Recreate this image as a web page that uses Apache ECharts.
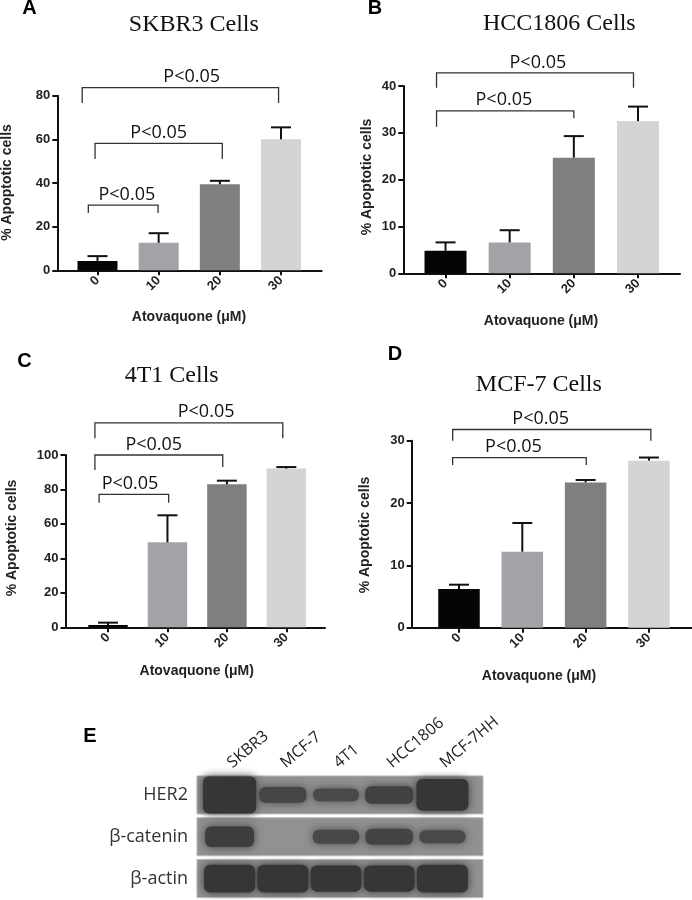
<!DOCTYPE html>
<html><head><meta charset="utf-8">
<script src="https://cdn.jsdelivr.net/npm/echarts@6/dist/echarts.min.js"></script>
<style>html,body{margin:0;padding:0;background:#fff}#c{width:692px;height:900px}</style>
</head><body><div id="c"></div>
<script>
// ---------- data ----------
const doses = ['0', '10', '20', '30'];

const skbr3Mean = [4.3, 12.6, 39.4, 60.0];
const skbr3Err  = [2.2, 4.4, 1.6, 5.5];
const skbr3YTicks = [0, 20, 40, 60, 80];

const hcc1806Mean = [4.8, 6.6, 24.7, 32.5];
const hcc1806Err  = [1.8, 2.6, 4.6, 3.1];
const hcc1806YTicks = [0, 10, 20, 30, 40];

const t41Mean = [1.3, 49.3, 83.0, 92.1];
const t41Err  = [1.4, 15.7, 2.1, 0.9];
const t41YTicks = [0, 20, 40, 60, 80, 100];

const mcf7Mean = [6.2, 12.2, 23.3, 26.8];
const mcf7Err  = [0.7, 4.6, 0.4, 0.5];
const mcf7YTicks = [0, 10, 20, 30];

// significance brackets: [fromX, toX, bracketY, leftLegEndY, rightLegEndY, labelX]
const skbr3Brackets   = [[-0.25, 2.96, 83.7, 76.7, 76.7, 1.54], [-0.04, 2.04, 58.2, 51.0, 51.0, 1.0], [-0.15, 0.99, 29.9, 26.3, 26.3, 0.48]];
const hcc1806Brackets = [[-0.14, 2.93, 42.8, 39.6, 39.6, 1.44], [-0.14, 2.0, 34.7, 31.3, 33.1, 0.91]];
const t41Brackets     = [[-0.22, 2.94, 118.7, 109.7, 109.7, 1.65], [-0.22, 1.93, 100.0, 91.3, 93.0, 0.77], [-0.15, 1.02, 77.2, 72.3, 72.3, 0.37]];
const mcf7Brackets    = [[-0.10, 3.03, 31.8, 30.0, 30.0, 1.29], [-0.10, 2.01, 27.3, 26.1, 26.1, 0.86]];
const pLabel = 'P<0.05';

// western blot
const lanes = ['SKBR3', 'MCF-7', '4T1', 'HCC1806', 'MCF-7HH'];
const proteins = ['HER2', 'β-catenin', 'β-actin'];
const her2Signal  = [1.0, 0.75, 0.70, 0.78, 0.95];
const bcatSignal  = [0.82, 0.10, 0.72, 0.76, 0.71];
const actinSignal = [0.91, 0.91, 0.89, 0.89, 0.91];

// ---------- layout / style ----------
const barColors = ['#050505', '#a2a2a7', '#7f7f7f', '#d4d4d4'];
const sansFam = '"Liberation Sans", Arial, sans-serif';
const panels = [
  { title: 'SKBR3 Cells', letter: 'A', mean: skbr3Mean, err: skbr3Err, ticks: skbr3YTicks, br: skbr3Brackets,
    grid: { left: 57.3, top: 95.7, width: 264.4, height: 174.6 }, xMin: -0.657, xMax: 3.665, barW: 40,
    titleXY: [193.8, 24.5], letterXY: [29.5, 8], xNameXY: [189, 317], yNameXY: [7, 182.5] },
  { title: 'HCC1806 Cells', letter: 'B', mean: hcc1806Mean, err: hcc1806Err, ticks: hcc1806YTicks, br: hcc1806Brackets,
    grid: { left: 403.3, top: 86, width: 276.7, height: 187.3 }, xMin: -0.658, xMax: 3.655, barW: 42,
    titleXY: [559.3, 24], letterXY: [375, 8], xNameXY: [541, 321], yNameXY: [367, 177] },
  { title: '4T1 Cells', letter: 'C', mean: t41Mean, err: t41Err, ticks: t41YTicks, br: t41Brackets,
    grid: { left: 65.5, top: 455, width: 259.5, height: 172.3 }, xMin: -0.715, xMax: 3.65, barW: 39.5,
    titleXY: [171.7, 375.5], letterXY: [24.5, 361], xNameXY: [196.7, 671.5], yNameXY: [12, 538] },
  { title: 'MCF-7 Cells', letter: 'D', mean: mcf7Mean, err: mcf7Err, ticks: mcf7YTicks, br: mcf7Brackets,
    grid: { left: 411.7, top: 440.7, width: 280.3, height: 187 }, xMin: -0.747, xMax: 3.68, barW: 41.5,
    titleXY: [538.8, 384.5], letterXY: [395, 354.5], xNameXY: [539, 676], yNameXY: [365, 535] }
];

function errRender(params, api) {
  const x = api.value(0), m = api.value(1), e = api.value(2);
  const p0 = api.coord([x, m]), p1 = api.coord([x, m + e]);
  return { type: 'group', children: [
    { type: 'line', shape: { x1: p0[0], y1: p0[1], x2: p1[0], y2: p1[1] }, style: { stroke: '#111', lineWidth: 2 } },
    { type: 'line', shape: { x1: p1[0] - 10, y1: p1[1], x2: p1[0] + 10, y2: p1[1] }, style: { stroke: '#111', lineWidth: 2 } }
  ]};
}
function brRender(params, api) {
  const x1 = api.value(0), x2 = api.value(1), y = api.value(2), l = api.value(3), r = api.value(4), lx = api.value(5);
  const a = api.coord([x1, l]), b = api.coord([x1, y]), c = api.coord([x2, y]), d = api.coord([x2, r]), t = api.coord([lx, y]);
  return { type: 'group', children: [
    { type: 'polyline', shape: { points: [a, b, c, d] }, style: { stroke: '#333', lineWidth: 1.3, fill: null } },
    { type: 'text', x: t[0], y: t[1] - 1.5, style: { text: pLabel, font: '18px "Open Sans", sans-serif', fill: '#111', align: 'center', verticalAlign: 'bottom' } }
  ]};
}

const grids = [], xAxes = [], yAxes = [], series = [], graphics = [];
panels.forEach((p, i) => {
  grids.push(Object.assign({}, p.grid));
  xAxes.push({
    type: 'value', gridIndex: i, min: p.xMin, max: p.xMax,
    axisLine: { show: true, onZero: false, lineStyle: { color: '#111', width: 2 } },
    axisTick: { show: true, customValues: [0, 1, 2, 3], length: 5, lineStyle: { color: '#111', width: 2 } },
    axisLabel: { customValues: [0, 1, 2, 3], rotate: 45, margin: 8, formatter: v => doses[Math.round(v)],
      fontFamily: sansFam, fontWeight: 'bold', fontSize: 13, color: '#222' },
    splitLine: { show: false }
  });
  yAxes.push({
    type: 'value', gridIndex: i, min: p.ticks[0], max: p.ticks[p.ticks.length - 1], interval: p.ticks[1] - p.ticks[0],
    axisLine: { show: true, onZero: false, lineStyle: { color: '#111', width: 2 } },
    axisTick: { show: true, length: 5, lineStyle: { color: '#111', width: 2 } },
    axisLabel: { margin: 7, fontFamily: sansFam, fontWeight: 'bold', fontSize: 13, color: '#222' },
    splitLine: { show: false }
  });
  series.push({
    type: 'bar', xAxisIndex: i, yAxisIndex: i, barWidth: p.barW, z: 2,
    data: p.mean.map((v, k) => ({ value: [k, v], itemStyle: { color: barColors[k] } }))
  });
  series.push({
    type: 'custom', xAxisIndex: i, yAxisIndex: i, z: 3, clip: false, renderItem: errRender,
    encode: { x: 0, y: 1 },
    data: p.mean.map((v, k) => [k, v, p.err[k]])
  });
  series.push({
    type: 'custom', xAxisIndex: i, yAxisIndex: i, z: 4, clip: false, renderItem: brRender,
    encode: { x: [0, 1], y: [2] },
    data: p.br
  });
  graphics.push({ type: 'text', x: p.titleXY[0], y: p.titleXY[1],
    style: { text: p.title, font: '24px "Liberation Serif", "Times New Roman", serif', fill: '#111', align: 'center', verticalAlign: 'middle' } });
  graphics.push({ type: 'text', x: p.letterXY[0], y: p.letterXY[1],
    style: { text: p.letter, font: 'bold 20px ' + sansFam, fill: '#000', align: 'center', verticalAlign: 'middle' } });
  graphics.push({ type: 'text', x: p.xNameXY[0], y: p.xNameXY[1],
    style: { text: 'Atovaquone (μM)', font: 'bold 14px ' + sansFam, fill: '#222', align: 'center', verticalAlign: 'middle' } });
  graphics.push({ type: 'text', x: p.yNameXY[0], y: p.yNameXY[1], rotation: Math.PI / 2,
    style: { text: '% Apoptotic cells', font: 'bold 14px ' + sansFam, fill: '#222', align: 'center', verticalAlign: 'middle' } });
});

// ---------- western blot panel ----------
const gi = 4;
grids.push({ left: 203, top: 774, width: 266, height: 125.5 });
xAxes.push({ type: 'category', gridIndex: gi, data: lanes, position: 'top',
  axisLine: { show: false }, axisTick: { show: false }, splitLine: { show: false },
  axisLabel: { rotate: -40, margin: 9, interval: 0, fontFamily: '"Open Sans", sans-serif', fontSize: 16, color: '#222' } });
yAxes.push({ type: 'category', gridIndex: gi, data: proteins, inverse: true,
  axisLine: { show: false }, axisTick: { show: false }, splitLine: { show: false },
  axisLabel: { margin: 15, fontFamily: '"Open Sans", sans-serif', fontSize: 18, color: '#333' } });

const blotBg = [145, 145, 145], blotDark = [54, 54, 54];
function mix(t) {
  t = Math.max(0, Math.min(1, t));
  const c = blotBg.map((b, k) => Math.round(b + (blotDark[k] - b) * t));
  return 'rgb(' + c.join(',') + ')';
}
series.push({
  type: 'custom', xAxisIndex: gi, yAxisIndex: gi, z: 1, clip: false,
  data: proteins.map((p, r) => [0, r]),
  renderItem: (params, api) => {
    const cs = params.coordSys;
    const c = api.coord([0, api.value(1)]);
    return { type: 'rect', shape: { x: cs.x - 6, y: c[1] - 19, width: cs.width + 20, height: 38 },
      style: { fill: mix(0), stroke: '#b8b8b8', lineWidth: 1 } };
  }
});
const blotData = [];
[her2Signal, bcatSignal, actinSignal].forEach((arr, r) => arr.forEach((s, l) => blotData.push([l, r, s])));
series.push({
  type: 'custom', xAxisIndex: gi, yAxisIndex: gi, z: 2, clip: false, data: blotData,
  renderItem: (params, api) => {
    const l = api.value(0), r = api.value(1), s = api.value(2);
    const c = api.coord([l, r]);
    const bw = api.size([1, 1])[0];
    const h = 37 * Math.pow(s, 3);
    const w = bw * (0.55 + 0.45 * s);
    const col = mix(s * 1.12);
    return { type: 'rect', shape: { x: c[0] - w / 2, y: c[1] - h / 2, width: w, height: h, r: Math.min(h / 2, 6) },
      style: { fill: col, shadowBlur: 8, shadowColor: col } };
  }
});
graphics.push({ type: 'text', x: 90, y: 736.5,
  style: { text: 'E', font: 'bold 20px ' + sansFam, fill: '#000', align: 'center', verticalAlign: 'middle' } });

const chart = echarts.init(document.getElementById('c'), null, { renderer: 'canvas' });
chart.setOption({
  animation: false,
  backgroundColor: '#fff',
  grid: grids, xAxis: xAxes, yAxis: yAxes, series: series, graphic: graphics
});
</script></body></html>
